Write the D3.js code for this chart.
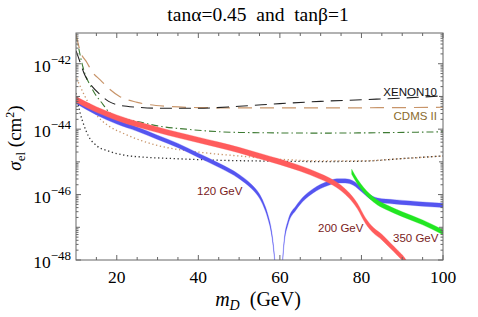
<!DOCTYPE html>
<html>
<head>
<meta charset="utf-8">
<script src="https://cdn.jsdelivr.net/npm/d3@7"></script>
<style>
  body { margin: 0; background: #fff; }
  svg { display: block; }
  .serif { font-family: "Liberation Serif", "DejaVu Serif", serif; }
  .sans { font-family: "Liberation Sans", Arial, sans-serif; }
</style>
</head>
<body>
<div id="chart"></div>
<script>
'use strict';

// values are log10(sigma / cm^2)
var mass_red = [10, 15, 20, 25, 30, 35, 40, 45, 50, 55, 60, 65, 70, 73, 75, 77, 79, 81, 83, 85, 87, 89, 90.5, 91.5];
var sigma_red = [-43.09, -43.4, -43.65, -43.85, -44.02, -44.18, -44.33, -44.48, -44.64, -44.82, -45.0, -45.2, -45.45, -45.63, -45.8, -46.03, -46.35, -46.8, -47.1, -47.3, -47.55, -47.8, -48.0, -48.2];

var mass_blue = [10, 15, 20, 25, 30, 35, 40, 45, 50, 53, 55, 56, 57, 58, 58.5, 58.9, 59.2,
                 60.3, 60.6, 61, 62, 64, 66, 68, 70, 72, 74, 76, 78, 80, 82, 84, 88, 92, 96, 100];
var sigma_blue = [-43.15, -43.5, -43.78, -44.0, -44.25, -44.5, -44.8, -45.1, -45.45, -45.75, -46.05, -46.3, -46.65, -47.2, -47.7, -48.3, -49,
                  -49, -48.2, -47.5, -46.85, -46.4, -46.1, -45.9, -45.75, -45.65, -45.58, -45.58, -45.65, -45.85, -46.06, -46.17, -46.22, -46.26, -46.3, -46.33];

var mass_green = [77.6, 79, 80.5, 82, 84, 86, 90, 95, 100];
var sigma_green = [-45.3, -45.6, -45.85, -46.05, -46.25, -46.38, -46.6, -46.85, -47.15];

var mass_xenon = [10, 11, 12, 14, 16, 18, 20, 25, 30, 40, 50, 60, 70, 80, 90, 100];
var sigma_xenon = [-41.6, -41.95, -42.3, -42.7, -42.95, -43.15, -43.25, -43.33, -43.36, -43.36, -43.3, -43.22, -43.15, -43.1, -43.05, -42.98];

var mass_cdms = [10, 11, 12.7, 14, 16, 18, 20.7, 25, 32, 40, 50, 70, 100];
var sigma_cdms = [-41.1, -41.6, -41.97, -42.25, -42.5, -42.75, -43.0, -43.18, -43.3, -43.34, -43.35, -43.35, -43.33];

var mass_dashdot = [10, 11.7, 14.1, 16.6, 18.3, 22, 26.3, 30, 37, 50, 70, 100];
var sigma_dashdot = [-41.1, -42.1, -42.8, -43.24, -43.5, -43.68, -43.8, -43.9, -44.0, -44.1, -44.12, -44.08];

var mass_dot_tan = [10, 12, 14, 16, 18, 22, 26, 30, 40, 50, 60, 70, 80, 90, 100];
var sigma_dot_tan = [-42.4, -42.95, -43.4, -43.7, -43.9, -44.15, -44.35, -44.5, -44.7, -44.82, -44.92, -44.97, -44.97, -44.9, -44.82];

var mass_dot_black = [10, 11, 12, 13, 15, 18, 22, 26, 34, 45, 60, 70, 80, 90, 100];
var sigma_dot_black = [-42.9, -43.5, -43.9, -44.2, -44.5, -44.67, -44.8, -44.85, -44.9, -44.95, -44.98, -44.99, -44.98, -44.9, -44.82];

var x_ticks = [20, 40, 60, 80, 100];
var y_label_exps = [-42, -44, -46, -48];

var svg_w = 478, svg_h = 317;
var plot_l = 76, plot_r = 443, plot_t = 33, plot_b = 260;

var svg = d3.select("#chart").append("svg")
  .attr("width", svg_w)
  .attr("height", svg_h);

var x = d3.scaleLinear().domain([10, 100]).range([plot_l, plot_r]);
var y = d3.scaleLog().domain([1e-48, Math.pow(10, -41.06)]).range([plot_b, plot_t]);

function pts(ms, ss) {
  return ms.map(function(m, i) { return { m: m, s: ss[i] }; });
}

svg.append("clipPath").attr("id", "plotclip")
  .append("rect")
  .attr("x", plot_l).attr("y", plot_t)
  .attr("width", plot_r - plot_l).attr("height", plot_b - plot_t);

var plot = svg.append("g").attr("clip-path", "url(#plotclip)");

var line = d3.line()
  .x(function(d) { return x(d.m); })
  .y(function(d) { return y(Math.pow(10, d.s)); })
  .curve(d3.curveMonotoneX);

// thick curves are bands of constant height in log space, so they get thin where steep
function band(hw) {
  return d3.area()
    .x(function(d) { return x(d.m); })
    .y0(function(d) { return y(Math.pow(10, d.s - hw)); })
    .y1(function(d) { return y(Math.pow(10, d.s + hw)); })
    .curve(d3.curveMonotoneX);
}

// limits
plot.append("path").datum(pts(mass_dot_black, sigma_dot_black))
  .attr("d", line).attr("fill", "none")
  .attr("stroke", "#333").attr("stroke-width", 1.3).attr("stroke-dasharray", "1.3,2.6");
plot.append("path").datum(pts(mass_dot_tan, sigma_dot_tan))
  .attr("d", line).attr("fill", "none")
  .attr("stroke", "#c8956a").attr("stroke-width", 1.3).attr("stroke-dasharray", "1.3,2.6").attr("stroke-dashoffset", 2);
plot.append("path").datum(pts(mass_dashdot, sigma_dashdot))
  .attr("d", line).attr("fill", "none")
  .attr("stroke", "#3d7a32").attr("stroke-width", 1.1).attr("stroke-dasharray", "7,3,1.5,3");
plot.append("path").datum(pts(mass_cdms, sigma_cdms))
  .attr("d", line).attr("fill", "none")
  .attr("stroke", "#c8956a").attr("stroke-width", 1.2).attr("stroke-dasharray", "14,8");
plot.append("path").datum(pts(mass_xenon, sigma_xenon))
  .attr("d", line).attr("fill", "none")
  .attr("stroke", "#222").attr("stroke-width", 1.1).attr("stroke-dasharray", "12,7");

// cross sections
plot.append("path").datum(pts(mass_blue, sigma_blue))
  .attr("d", band(0.065)).attr("fill", "#5555f0").attr("stroke", "#5555f0").attr("stroke-width", 0.3);
plot.append("path").datum(pts(mass_green, sigma_green))
  .attr("d", band(0.075)).attr("fill", "#22e622").attr("stroke", "#22e622").attr("stroke-width", 0.3);
plot.append("path").datum(pts(mass_red, sigma_red))
  .attr("d", band(0.085)).attr("fill", "#ff5c5c").attr("stroke", "#ff5c5c").attr("stroke-width", 0.3);

// frame and ticks, all inward like Mathematica
var frame = svg.append("g").attr("stroke", "#666").attr("stroke-width", 1);
frame.append("rect")
  .attr("x", plot_l).attr("y", plot_t)
  .attr("width", plot_r - plot_l).attr("height", plot_b - plot_t)
  .attr("fill", "none");

var x_minor = d3.range(15, 100, 5).filter(function(v) { return v % 20 != 0; });
x_ticks.concat(x_minor).forEach(function(v) {
  var len = x_ticks.indexOf(v) >= 0 ? 5 : 3;
  frame.append("line").attr("x1", x(v)).attr("x2", x(v)).attr("y1", plot_b).attr("y2", plot_b - len);
  frame.append("line").attr("x1", x(v)).attr("x2", x(v)).attr("y1", plot_t).attr("y2", plot_t + len);
});

for (var e = -48; e <= -42; e++) {
  for (var k = 1; k <= 9; k++) {
    var v = k * Math.pow(10, e);
    if (v > y.domain()[1]) break;
    var len = k == 1 ? (e % 2 == 0 ? 5 : 4) : 2.5;
    frame.append("line").attr("x1", plot_l).attr("x2", plot_l + len).attr("y1", y(v)).attr("y2", y(v));
    frame.append("line").attr("x1", plot_r).attr("x2", plot_r - len).attr("y1", y(v)).attr("y2", y(v));
  }
}

// tick labels
svg.selectAll(".xlab").data(x_ticks).enter().append("text")
  .attr("class", "serif")
  .attr("x", function(d) { return x(d); })
  .attr("y", 283)
  .attr("text-anchor", "middle")
  .attr("font-size", 17.5)
  .text(function(d) { return d; });

y_label_exps.forEach(function(ex) {
  var t = svg.append("text").attr("class", "serif")
    .attr("x", 71).attr("y", y(Math.pow(10, ex)) + 8)
    .attr("text-anchor", "end").attr("font-size", 17.5);
  t.append("tspan").text("10");
  t.append("tspan").attr("dy", -8).attr("font-size", 13).text("\u2212" + (-ex));
});

// title and axis labels
svg.append("text").attr("class", "serif")
  .attr("x", 258).attr("y", 21).attr("text-anchor", "middle").attr("font-size", 19.5)
  .attr("xml:space", "preserve")
  .text("tan\u03b1=0.45  and  tan\u03b2=1");

var xl = svg.append("text").attr("class", "serif")
  .attr("x", 258).attr("y", 306).attr("text-anchor", "middle").attr("font-size", 20)
  .attr("xml:space", "preserve");
xl.append("tspan").attr("font-style", "italic").text("m");
xl.append("tspan").attr("font-style", "italic").attr("font-size", 14).attr("dy", 4).text("D");
xl.append("tspan").attr("dy", -4).text("  (GeV)");

var yl = svg.append("text").attr("class", "serif")
  .attr("transform", "translate(21,138) rotate(-90)")
  .attr("text-anchor", "middle").attr("font-size", 19)
  .attr("xml:space", "preserve");
yl.append("tspan").attr("font-style", "italic").text("\u03c3");
yl.append("tspan").attr("font-size", 13).attr("dy", 4).text("el");
yl.append("tspan").attr("dy", -4).text(" (cm");
yl.append("tspan").attr("font-size", 12).attr("dy", -7).text("2");
yl.append("tspan").attr("dy", 7).text(")");

// curve labels
function label(txt, xx, yy, color, anchor) {
  svg.append("text").attr("class", "sans")
    .attr("x", xx).attr("y", yy)
    .attr("text-anchor", anchor || "start")
    .attr("font-size", 11.5)
    .attr("fill", color)
    .text(txt);
}
label("XENON10", 437, 96, "#111", "end");
label("CDMS II", 437, 120, "#8a6a2c", "end");
label("120 GeV", 197, 195, "#7a1c1c");
label("200 GeV", 318, 232, "#7a1c1c");
label("350 GeV", 393, 242, "#7a1c1c");
</script>
</body>
</html>
